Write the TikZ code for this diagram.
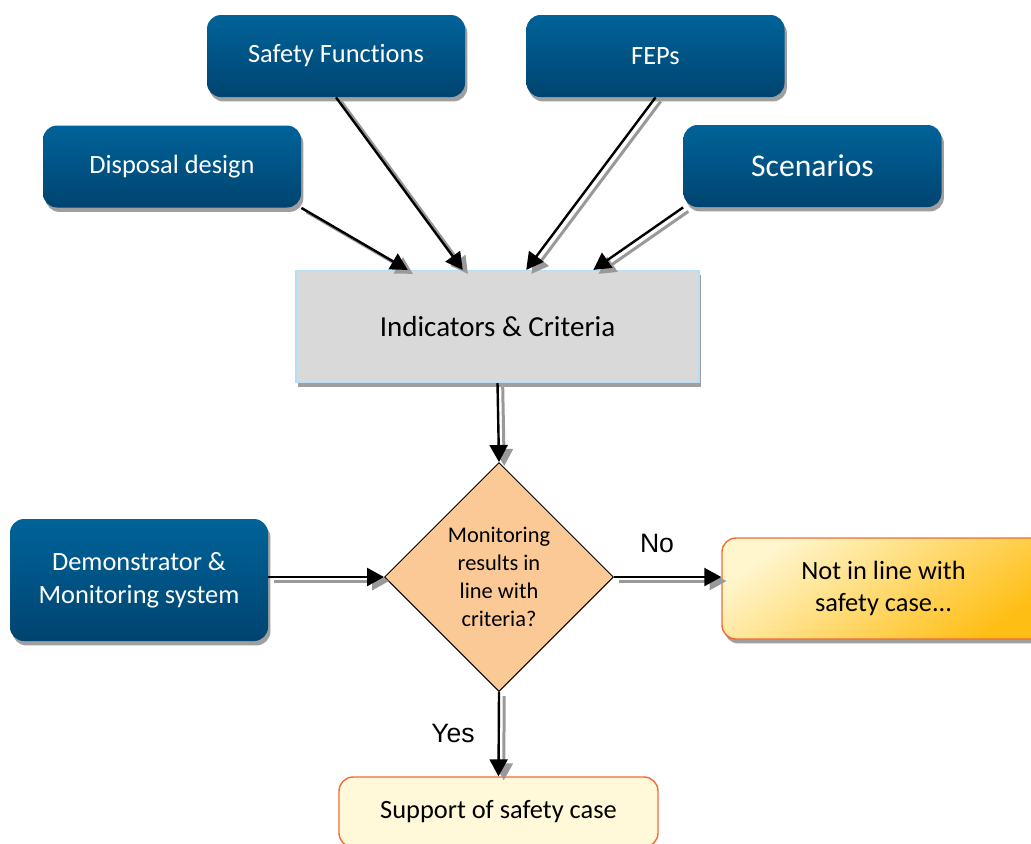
\documentclass[tikz,border=0pt]{standalone}
\usepackage{fontspec}
\setmainfont{Carlito}[Ligatures=NoCommon]
\newfontfamily\arialfont{Liberation Sans}
\usetikzlibrary{arrows.meta,positioning,shapes.geometric,shadows,calc}
\definecolor{dsblue}{RGB}{0,99,153}
\definecolor{dsbluedark}{RGB}{0,68,112}
\definecolor{dsgray}{RGB}{217,217,217}
\definecolor{dsgrayedge}{RGB}{183,222,242}
\definecolor{dspeach}{RGB}{251,201,150}
\definecolor{dscream}{RGB}{255,249,217}
\definecolor{dslight}{RGB}{255,246,206}
\definecolor{dsorange}{RGB}{255,190,20}
\definecolor{dsred}{RGB}{242,108,52}

\begin{document}
\begin{tikzpicture}[x=0.5pt,y=-0.5pt,
  boxshadow/.style={drop shadow={shadow xshift=1.2pt, shadow yshift=-2.2pt, fill=gray!75, opacity=1}},
  bluebox/.style={boxshadow, rounded corners=7pt, top color=dsblue, bottom color=dsbluedark,
    text=white, minimum width=129pt, minimum height=41pt, align=center,
    font=\fontsize{13.2}{16.5}\selectfont},
  critbox/.style={boxshadow, fill=dsgray, draw=dsgrayedge, line width=0.6pt,
    minimum width=201.5pt, minimum height=56pt, font=\fontsize{14.5}{17}\selectfont},
  decision/.style={diamond, aspect=1, draw=black, line width=0.5pt, fill=dspeach, inner sep=0pt,
    minimum width=114.5pt, minimum height=114.5pt, align=center,
    font=\fontsize{11.2}{13.9}\selectfont},
  notbox/.style={boxshadow, rounded corners=7pt, draw=dsred, line width=0.7pt,
    top color=dslight, middle color=dslight, bottom color=dsorange, shading angle=35,
    minimum width=161.5pt, minimum height=50.5pt, align=center,
    font=\fontsize{13.2}{16}\selectfont},
  okbox/.style={rounded corners=7pt, draw=dsred, line width=0.7pt, fill=dscream,
    minimum width=159.5pt, minimum height=35pt, font=\fontsize{13.2}{16}\selectfont},
  edgelabel/.style={font=\arialfont\fontsize{13.3}{15}\selectfont},
  flowarrow/.style={line width=1.2pt, -{Triangle[length=8.5pt,width=9pt]},
    preaction={draw=gray!80, line width=1.5pt, transform canvas={shift={(2.6pt,-2pt)}}}}]
\useasboundingbox (0,0) rectangle (1031,843);
% Input boxes (top)
\node[bluebox] (safety) at (336,56) {Safety Functions};
\node[bluebox] (feps) at (655.5,56) {FEPs};
\node[bluebox] (disposal) at (172,166.5) {Disposal design};
\node[bluebox, font=\fontsize{15.8}{19}\selectfont] (scen) at (812.5,166) {Scenarios};
% Indicators and criteria
\node[critbox] (ind) at (497.5,326.5) {Indicators \& Criteria};
% Decision (middle)
\node[decision] (check) at (499,577) {Monitoring\\results in\\line with\\criteria?};
\node[bluebox, minimum height=61pt] (demo) at (139,580) {Demonstrator \&\\Monitoring system};
\node[notbox] (notok) at (883.5,588.5) {Not in line with\\safety case...};
\node[okbox] (support) at (498.5,812) {Support of safety case};
% Labels
\node[edgelabel] (no) at (657,543) {No};
\node[edgelabel] (yes) at (453,733) {Yes};
% Arrows into indicators
\draw[flowarrow] (disposal.south east) -- ($(ind.north west)!0.278!(ind.north east)$);
\draw[flowarrow] (safety.south) -- ($(ind.north west)!0.414!(ind.north east)$);
\draw[flowarrow] (feps.south) -- ($(ind.north west)!0.571!(ind.north east)$);
\draw[flowarrow] (scen.south west) -- ($(ind.north west)!0.737!(ind.north east)$);
% Flow through decision
\draw[flowarrow] (ind.south) -- (check.north);
\draw[flowarrow] (demo.east |- check.west) -- (check.west);
\draw[flowarrow] (check.east) -- (notok.west |- check.east);
\draw[flowarrow] (check.south) -- (support.north);
\end{tikzpicture}
\end{document}
